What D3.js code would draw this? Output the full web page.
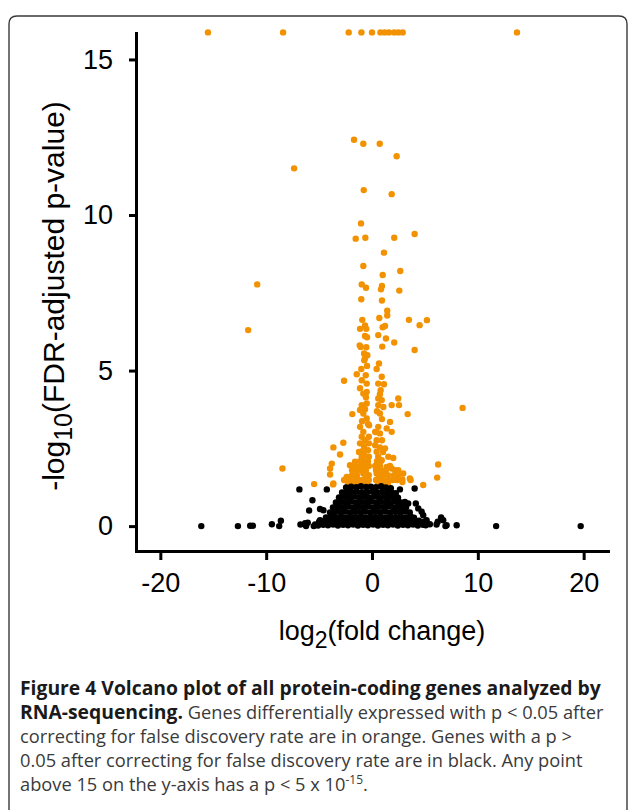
<!DOCTYPE html>
<html>
<head>
<meta charset="utf-8">
<script src="https://cdn.jsdelivr.net/npm/d3@7"></script>
<style>
  body { margin: 0; background: #fff; }
</style>
</head>
<body>
<script>
var xTicks = [-20, -10, 0, 10, 20];
var yTicks = [0, 5, 10, 15];

// genes above 15 are drawn on the top line
var capValue = 15.87;
var cappedGenes = [-15.5, -8.4, -2.2, -1.0, 0.0, 0.8, 1.2, 1.6, 2.1, 2.5, 2.9, 13.7];

// [log2 fold change, -log10 FDR p]
var sigGenes = [
  [-1.70,12.42],[-0.82,12.29],[0.73,12.29],[2.33,11.89],[-7.36,11.50],[-0.78,10.80],[1.86,10.67],
  [-1.04,9.73],[-1.54,9.24],[-0.63,9.27],[2.10,9.27],[4.03,9.39],[1.13,8.79],[-0.82,8.36],[1.01,8.07],
  [2.67,8.20],[-10.85,7.77],[-0.97,7.77],[-0.57,7.66],[0.94,7.72],[0.85,7.61],[2.58,7.57],[-1.01,7.29],
  [0.94,7.25],[1.44,6.92],[1.44,6.77],[0.69,6.69],[-0.92,6.63],[3.49,6.63],[5.19,6.62],[4.50,6.46],
  [-0.66,6.45],[-1.13,6.34],[-0.54,6.34],[1.01,6.39],[1.23,6.43],[-11.7,6.30],[0.59,6.14],[1.32,6.03],
  [2.10,5.90],[-0.66,6.11],[-0.47,6.07],[-1.16,5.81],[-1.07,5.76],[-0.54,5.75],[0.97,5.77],[4.03,5.66],
  [-0.75,5.55],[-0.44,5.49],[-0.66,5.40],[0.66,5.23],[-0.47,5.15],[-1.01,5.05],[0.44,5.05],
  [-0.73,5.33],[-1.44,4.88],[-0.59,4.85],[0.92,4.80],[-2.64,4.67],[-0.97,4.69],[-0.50,4.58],[0.59,4.58],
  [1.13,4.56],[0.82,4.37],[-0.82,4.26],[-0.50,4.31],[0.59,4.10],[0.92,4.05],[2.48,4.10],[1.86,3.89],
  [2.55,3.89],[-0.97,3.89],[-0.50,3.94],[0.59,3.89],[1.07,3.83],[-1.86,3.60],[3.37,3.60],[-0.82,3.62],
  [0.75,3.62],[-0.50,3.46],[1.70,3.35],[-1.13,3.19],[-0.28,3.24],[0.59,3.19],[1.39,3.14],[1.86,3.03],
  [-0.82,3.03],[0.30,3.03],[0.75,2.98],[-0.97,2.87],[-0.30,2.87],[0.44,2.76],[-1.13,2.66],[-0.30,2.66],
  [-2.71,2.68],[-3.65,2.53],[-3.02,2.30],[0.75,2.53],[1.23,2.50],[1.54,2.23],[2.01,2.19],[-0.82,2.44],
  [0.44,2.39],[-0.97,2.23],[-0.30,2.23],[0.59,2.23],[-3.80,2.01],[-3.96,1.85],[-3.96,1.66],[-1.60,2.07],
  [-2.08,1.96],[-1.29,1.90],[0.92,2.12],[1.39,1.90],[1.86,1.85],[2.48,1.80],[2.95,1.69],[3.58,1.53],
  [-2.39,1.58],[-0.82,1.69],[-0.30,1.64],[0.44,1.69],[1.07,1.64],[6.25,1.98],
  [8.56,3.80],[-8.46,1.85],[-5.47,1.35],[-3.65,1.37],[-2.14,1.48],[2.86,1.50],[3.65,1.48],[4.84,1.32],
  [6.16,1.56],[-3.68,1.34],[-2.17,1.39],[2.87,1.42],
  [-1.13,2.09],[-0.75,2.09],[-0.38,2.09],[0.47,2.09],[0.85,2.09],
  [-1.70,1.93],[-0.94,1.93],[-0.57,1.93],[-0.30,1.93],[0.30,1.93],[0.75,1.93],[1.70,1.93],
  [-1.89,1.80],[-1.51,1.80],[-1.13,1.80],[-0.57,1.80],[0.38,1.80],[0.85,1.80],[1.32,1.80],[2.17,1.80],
  [-1.89,1.64],[-1.42,1.64],[-0.57,1.64],[0.66,1.64],[1.51,1.64],[2.08,1.64],[2.45,1.64],
  [-2.64,1.48],[-1.60,1.48],[-1.23,1.48],[-0.85,1.48],[-0.47,1.48],[-0.30,1.48],[0.38,1.48],[0.75,1.48],
  [1.13,1.48],[1.60,1.48],[1.98,1.48],[2.36,1.48],
  [-2.26,1.35],[-1.89,1.35],[-1.42,1.35],[-0.94,1.35],[-0.47,1.35],[0.57,1.35],[1.04,1.35],[1.51,1.35],
  [-1.13,3.73],[-0.66,3.76],[0.47,3.69],[0.94,3.44],[-0.94,3.37],[-0.38,3.28],[-0.66,2.76],[-0.75,2.57],
  [-0.38,2.44],[0.94,2.76],[0.38,3.02],[0.30,2.60],[-1.23,2.38],[1.04,2.38],[-0.57,4.14],[-1.13,4.43],
  [0.75,4.24],[-0.75,2.28]
];

var nsGenes = [
  [-16.13,0.0],[-12.67,0.0],[-11.51,0.01],[-11.25,0.01],[-9.46,0.06],[-8.61,0.17],[-8.77,0.0],
  [-6.86,1.18],[-5.63,0.83],[-5.94,0.50],[-4.91,0.55],[-4.59,0.51],[-6.76,0.05],[-6.23,0.0],
  [-6.07,0.11],[-5.50,0.0],[-5.0,0.14],[-4.27,1.18],[-6.32,0.09],[-5.38,0.05],[-4.91,0.19],
  [-4.59,0.09],[-4.12,0.25],[-3.80,0.41],[-3.33,0.51],[-2.71,1.05],[-2.24,1.16],
  [1.70,1.16],[2.01,1.0],[2.64,1.18],[2.39,0.89],[3.11,0.78],[3.42,0.73],[4.37,0.57],[4.69,0.46],
  [4.84,0.35],[5.16,0.19],[6.10,0.05],[6.73,0.19],[2.64,0.62],[3.27,0.19],[4.22,0.09],[5.47,0.06],
  [7.05,0.03],[1.39,0.94],[4.03,1.21],[4.14,0.73],[6.53,0.28],[6.21,0.14],[4.93,0.14],[6.94,0.0],
  [8.0,0.03],[11.73,0.0],[19.72,0.0],
  [-2.45,1.24],[-1.98,1.27],[-1.50,1.25],[-1.05,1.28],[-0.56,1.26],[-0.10,1.27],[0.37,1.25],[0.86,1.28],
  [1.31,1.24],[1.78,1.22],
  [-2.83,1.08],[-2.35,1.10],[-1.88,1.09],[-1.43,1.11],[-0.95,1.09],[-0.46,1.10],[0.02,1.11],[0.48,1.09],
  [0.93,1.10],[1.43,1.08],[1.90,1.07],[2.25,1.06],
  [-3.12,0.92],[-2.63,0.94],[-2.18,0.93],[-1.69,0.95],[-1.24,0.93],[-0.74,0.94],[-0.27,0.92],[0.20,0.95],
  [0.65,0.93],[1.14,0.94],[1.61,0.92],[2.07,0.93],[2.46,0.91],
  [-3.41,0.76],[-2.91,0.78],[-2.46,0.77],[-1.97,0.79],[-1.52,0.76],[-1.03,0.78],[-0.58,0.77],[-0.08,0.79],
  [0.39,0.76],[0.84,0.78],[1.33,0.77],[1.80,0.75],[2.27,0.78],[2.73,0.76],
  [-3.69,0.60],[-3.20,0.62],[-2.75,0.61],[-2.25,0.63],[-1.80,0.60],[-1.31,0.62],[-0.86,0.61],[-0.37,0.63],
  [0.10,0.60],[0.56,0.62],[1.05,0.61],[1.50,0.63],[1.99,0.60],[2.44,0.62],[2.91,0.61],[3.22,0.59],
  [-3.97,0.44],[-3.48,0.46],[-3.03,0.45],[-2.54,0.47],[-2.09,0.44],[-1.59,0.46],[-1.14,0.45],[-0.65,0.47],
  [-0.18,0.44],[0.29,0.46],[0.74,0.45],[1.24,0.47],[1.69,0.44],[2.18,0.46],[2.63,0.45],[3.12,0.47],[3.57,0.44],
  [-4.35,0.28],[-3.86,0.30],[-3.41,0.29],[-2.91,0.31],[-2.46,0.28],[-1.97,0.30],[-1.52,0.29],[-1.03,0.31],
  [-0.58,0.28],[-0.08,0.30],[0.39,0.29],[0.84,0.31],[1.33,0.28],[1.78,0.30],[2.27,0.29],[2.73,0.31],
  [3.22,0.28],[3.67,0.30],[3.97,0.27],
  [-4.73,0.15],[-4.24,0.17],[-3.78,0.16],[-3.29,0.18],[-2.84,0.15],[-2.35,0.17],[-1.90,0.16],[-1.41,0.18],
  [-0.95,0.15],[-0.46,0.17],[0.01,0.16],[0.48,0.18],[0.93,0.15],[1.43,0.17],[1.88,0.16],[2.37,0.18],
  [2.82,0.15],[3.31,0.17],[3.76,0.16],[4.26,0.14],[4.44,0.17],
  [-5.10,0.02],[-4.61,0.04],[-4.16,0.03],[-3.67,0.05],[-3.22,0.02],[-2.73,0.04],[-2.27,0.03],[-1.78,0.05],
  [-1.33,0.02],[-0.84,0.04],[-0.39,0.03],[0.10,0.05],[0.56,0.02],[1.05,0.04],[1.50,0.03],[1.99,0.05],
  [2.44,0.02],[2.93,0.04],[3.39,0.03],[3.88,0.05],[4.33,0.02],[4.82,0.04],[5.08,0.03]
];

var captionLines = [
  [{t: "Figure 4 Volcano plot of all protein-coding genes analyzed by", b: true}],
  [{t: "RNA-sequencing.", b: true}, {t: " Genes differentially expressed with p < 0.05 after"}],
  [{t: "correcting for false discovery rate are in orange. Genes with a p >"}],
  [{t: "0.05 after correcting for false discovery rate are in black. Any point"}],
  [{t: "above 15 on the y-axis has a p < 5 x 10"}, {t: "-15", sup: true}, {t: "."}]
];

var width = 629,
    height = 810,
    orange = "#f39200",
    r = 3.2,
    font = "'Liberation Sans', Arial, Helvetica, sans-serif";

var svg = d3.select("body").append("svg")
    .attr("width", width)
    .attr("height", height);

// figure frame, open at the bottom
svg.append("path")
    .attr("d", "M9,810V24Q9,16 17,16H619Q627,16 627,24V810")
    .attr("fill", "none")
    .attr("stroke", "#3a3a3a")
    .attr("stroke-width", 1.4);

var x = d3.scaleLinear().domain([-22.3, 22.3]).range([136, 608]);
var y = d3.scaleLinear().domain([-0.8, 15.85]).range([551, 33]);

svg.append("g").selectAll("circle")
    .data(sigGenes)
  .enter().append("circle")
    .attr("cx", function(d) { return x(d[0]); })
    .attr("cy", function(d) { return y(d[1]); })
    .attr("r", r)
    .attr("fill", orange);

svg.append("g").selectAll("circle")
    .data(cappedGenes)
  .enter().append("circle")
    .attr("cx", function(d) { return x(d); })
    .attr("cy", y(capValue))
    .attr("r", r)
    .attr("fill", orange);

svg.append("g").selectAll("circle")
    .data(nsGenes)
  .enter().append("circle")
    .attr("cx", function(d) { return x(d[0]); })
    .attr("cy", function(d) { return y(d[1]); })
    .attr("r", r)
    .attr("fill", "#000");

var gx = svg.append("g")
    .attr("transform", "translate(0,551)")
    .call(d3.axisBottom(x).tickValues(xTicks).tickSize(9).tickSizeOuter(0)
      .tickPadding(13).tickFormat(function(d) { return String(d); }));

var gy = svg.append("g")
    .attr("transform", "translate(136,0)")
    .call(d3.axisLeft(y).tickValues(yTicks).tickSize(7).tickSizeOuter(0)
      .tickPadding(16).tickFormat(function(d) { return String(d); }));

[gx, gy].forEach(function(g) {
  g.select(".domain").attr("stroke", "#000").attr("stroke-width", 3).attr("stroke-linecap", "square");
  g.selectAll(".tick line").attr("stroke", "#000").attr("stroke-width", 3);
  g.selectAll(".tick text").attr("fill", "#000")
      .style("font-family", font).style("font-size", "27px");
});

// axis titles
var yTitle = svg.append("text")
    .attr("transform", "translate(64,296) rotate(-90)")
    .attr("text-anchor", "middle")
    .style("font-family", font)
    .style("font-size", "30px");
yTitle.append("tspan").text("-log");
yTitle.append("tspan").attr("dy", 8).style("font-size", "25px").text("10");
yTitle.append("tspan").attr("dy", -8).text("(FDR-adjusted p-value)");

var xTitle = svg.append("text")
    .attr("x", 382)
    .attr("y", 640)
    .attr("text-anchor", "middle")
    .style("font-family", font)
    .style("font-size", "27px");
xTitle.append("tspan").text("log");
xTitle.append("tspan").attr("dy", 8).style("font-size", "23px").text("2");
xTitle.append("tspan").attr("dy", -8).text("(fold change)");

// caption
var caption = svg.append("g")
    .style("font-family", "'Open Sans', 'Noto Sans', sans-serif")
    .style("font-size", "17px");

var texts = captionLines.map(function(line, i) {
  var t = caption.append("text")
      .attr("x", 20)
      .attr("y", 695 + i * 24)
      .attr("fill", "#3a3a3a");
  line.forEach(function(part) {
    var s = t.append("tspan").text(part.t);
    if (part.b) s.attr("class", "bold").style("font-weight", "bold").attr("fill", "#1a1a1a");
    else s.attr("class", part.sup ? "sup" : "reg");
    if (part.sup) s.attr("dy", -7);
    else if (part.t === ".") s.attr("dy", 7);
  });
  return t;
});

// fit the bold first line to the figure width; regular text runs a bit narrower
var fs = 17 * 581 / texts[0].node().getComputedTextLength();
caption.selectAll(".bold").style("font-size", fs.toFixed(2) + "px");
caption.selectAll(".reg").style("font-size", (fs * 0.945).toFixed(2) + "px");
caption.selectAll(".sup").style("font-size", (fs * 0.62).toFixed(2) + "px");
</script>
</body>
</html>
